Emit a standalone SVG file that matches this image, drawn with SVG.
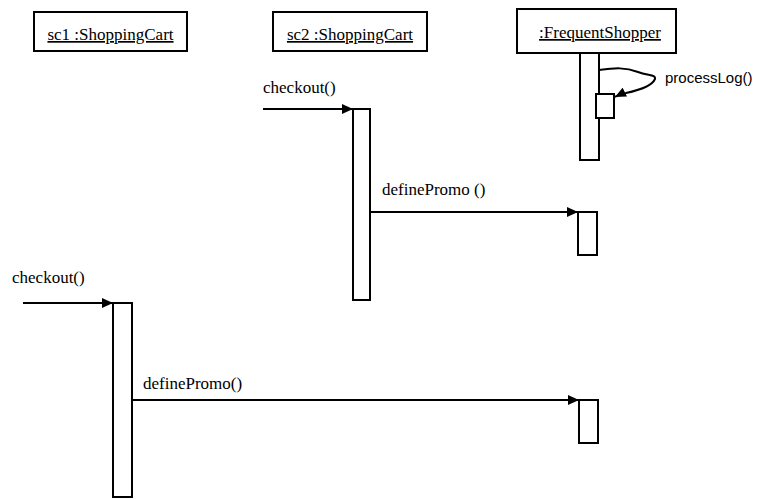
<svg xmlns="http://www.w3.org/2000/svg" width="770" height="500" viewBox="0 0 770 500">
<defs>
<style>
.box{fill:#fff;stroke:#000;stroke-width:2}
.lbl{font-family:"Liberation Serif","Times New Roman",serif;font-size:17px;fill:#000}
.sans{font-family:"Liberation Sans",Arial,sans-serif;font-size:15px;fill:#000}
.msg{fill:none;stroke:#000;stroke-width:2}
</style>
<marker id="arr" markerWidth="12" markerHeight="10" refX="11" refY="5" orient="auto" markerUnits="userSpaceOnUse">
<path d="M0,0 L11,5 L0,10 Z" fill="#000"/>
</marker>
</defs>
<rect width="770" height="500" fill="#fff"/>
<g id="sc1">
<rect class="box" x="34" y="12" width="153" height="39"/>
<text class="lbl" x="110.5" y="40" text-anchor="middle" text-decoration="underline">sc1 :ShoppingCart</text>
</g>
<g id="sc2">
<rect class="box" x="273" y="12" width="154" height="39"/>
<text class="lbl" x="350" y="40" text-anchor="middle" text-decoration="underline">sc2 :ShoppingCart</text>
</g>
<g id="frequentShopper">
<rect class="box" x="517" y="9" width="159" height="44"/>
<text class="lbl" x="600" y="38" text-anchor="middle" text-decoration="underline">:FrequentShopper</text>
</g>
<g id="fs-activation-1">
<rect class="box" x="580" y="53" width="19" height="107"/>
<rect class="box" x="596" y="94" width="18" height="24"/>
</g>
<g id="sc2-activation">
<rect class="box" x="353" y="109" width="17" height="191"/>
</g>
<g id="fs-activation-2">
<rect class="box" x="578" y="212" width="19" height="43"/>
</g>
<g id="sc1-activation">
<rect class="box" x="113" y="303" width="19" height="194"/>
</g>
<g id="fs-activation-3">
<rect class="box" x="579" y="400" width="19" height="43"/>
</g>
<g id="connectors">
<path class="msg" d="M599,70 C615,68 625,67 638,72 C648,76 656,74 655,79 C652,86 640,90 626,93 C620,94 617,96 615,97" marker-end="url(#arr)"/>
<line class="msg" x1="263" y1="109" x2="353" y2="109" marker-end="url(#arr)"/>
<line class="msg" x1="370" y1="212" x2="578" y2="212" marker-end="url(#arr)"/>
<line class="msg" x1="23" y1="303" x2="113" y2="303" marker-end="url(#arr)"/>
<line class="msg" x1="132" y1="400" x2="579" y2="400" marker-end="url(#arr)"/>
</g>
<g id="labels">
<text class="sans" x="665" y="83">processLog()</text>
<text class="lbl" x="263" y="93">checkout()</text>
<text class="lbl" x="382" y="195">definePromo ()</text>
<text class="lbl" x="12" y="283">checkout()</text>
<text class="lbl" x="143" y="389">definePromo()</text>
</g>
</svg>
